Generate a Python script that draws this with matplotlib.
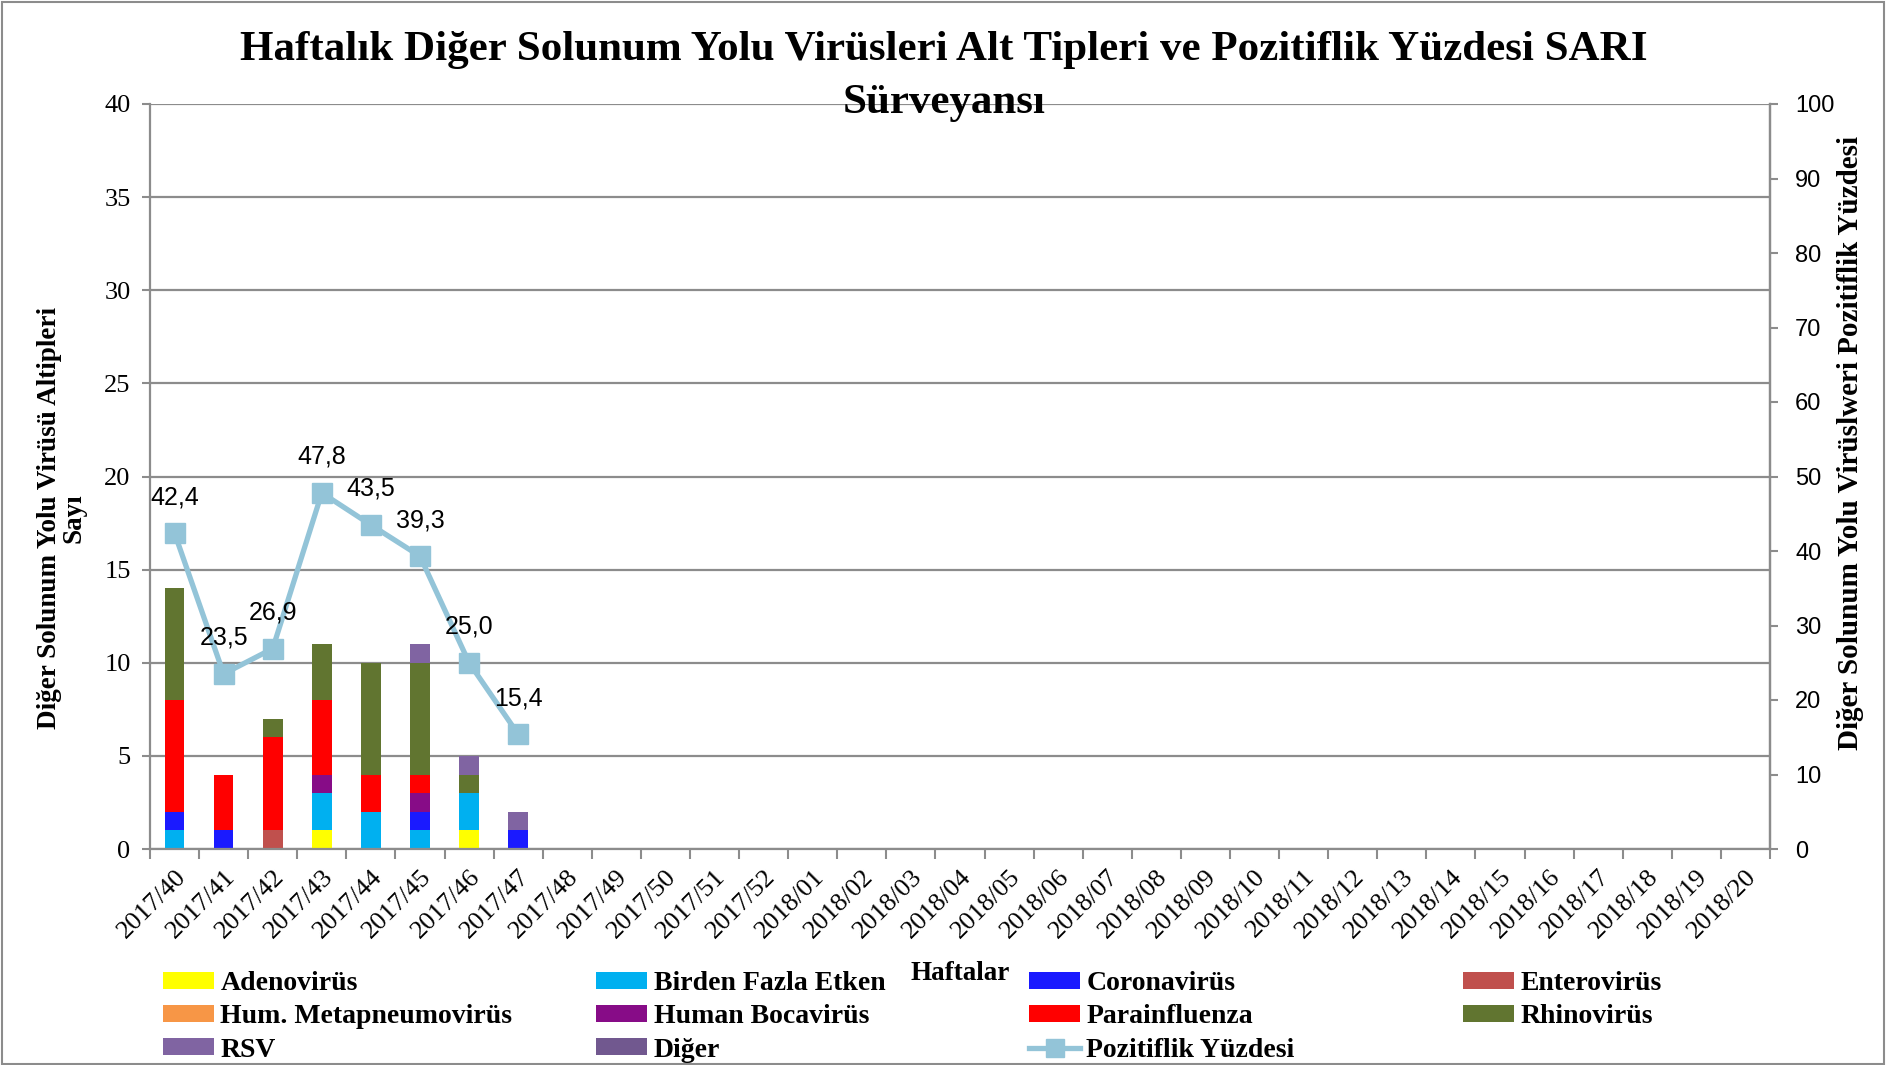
import numpy as np
import matplotlib
matplotlib.use('Agg')
import matplotlib.pyplot as plt
from matplotlib.patches import Rectangle, Patch
from matplotlib.lines import Line2D

plt.rcParams['font.family'] = ['Liberation Serif', 'DejaVu Serif']

# Haftalar
haftalar = ['2017/%d' % w for w in range(40, 53)] + ['2018/%02d' % w for w in range(1, 21)]

# Alt tipler (sadece ilk 8 hafta dolu)
adeno = [0, 0, 0, 1, 0, 0, 1, 0]
birden = [1, 0, 0, 2, 2, 1, 2, 0]
corona = [1, 1, 0, 0, 0, 1, 0, 1]
entero = [0, 0, 1, 0, 0, 0, 0, 0]
hmpv = [0, 0, 0, 0, 0, 0, 0, 0]
boca = [0, 0, 0, 1, 0, 1, 0, 0]
para = [6, 3, 5, 4, 2, 1, 0, 0]
rhino = [6, 0, 1, 3, 6, 6, 1, 0]
rsv = [0, 0, 0, 0, 0, 1, 1, 1]
diger = [0, 0, 0, 0, 0, 0, 0, 0]
pozitiflik = [42.4, 23.5, 26.9, 47.8, 43.5, 39.3, 25.0, 15.4]

seriler = [
    ('Adenovirüs', adeno, '#FFFF00'),
    ('Birden Fazla Etken', birden, '#00B0F0'),
    ('Coronavirüs', corona, '#1A1AFF'),
    ('Enterovirüs', entero, '#C0504D'),
    ('Hum. Metapneumovirüs', hmpv, '#F79646'),
    ('Human Bocavirüs', boca, '#870C87'),
    ('Parainfluenza', para, '#FF0000'),
    ('Rhinovirüs', rhino, '#617530'),
    ('RSV', rsv, '#8064A2'),
    ('Diğer', diger, '#71588F'),
]
cizgi_renk = '#93C4D8'
gri = '#8C8C8C'

fig = plt.figure(figsize=(18.88, 10.65), dpi=100)
ax = fig.add_axes([150 / 1888, 1 - 849 / 1065, 1620 / 1888, 745 / 1065])

x = np.arange(len(adeno))
alt = np.zeros(len(adeno))
for ad, deger, renk in seriler:
    ax.bar(x, deger, 0.4, bottom=alt, color=renk, label=ad)
    alt += np.array(deger)

ax.set_xlim(-0.5, len(haftalar) - 0.5)
ax.set_ylim(0, 40)
ax.set_yticks(np.arange(0, 41, 5))
ax.tick_params(axis='y', labelsize=19, length=6, width=1.5, color=gri, pad=8)
for t in ax.get_yticklabels():
    t.set_fontfamily('Liberation Serif')
ax.yaxis.grid(True, color=gri, linewidth=1.6)
ax.set_axisbelow(True)

ax.set_xticks(np.arange(len(haftalar)))
ax.set_xticklabels(haftalar, rotation=45, ha='right', rotation_mode='anchor', fontsize=19)
ax.tick_params(axis='x', length=0, pad=12)
ax.set_xticks(np.arange(len(haftalar) + 1) - 0.5, minor=True)
ax.tick_params(axis='x', which='minor', length=7, width=1.5, color=gri)

ax.spines['top'].set_visible(False)
for s in ['left', 'bottom', 'right']:
    ax.spines[s].set_color(gri)
    ax.spines[s].set_linewidth(1.6)

ax2 = ax.twinx()
ax2.set_ylim(0, 100)
ax2.set_yticks(np.arange(0, 101, 10))
ax2.tick_params(axis='y', length=6, width=1.5, color=gri, pad=12)
for t in ax2.get_yticklabels():
    t.set_fontfamily('Liberation Sans')
    t.set_fontsize(17)
for s in ['top', 'left', 'bottom']:
    ax2.spines[s].set_visible(False)
ax2.spines['right'].set_color(gri)
ax2.spines['right'].set_linewidth(1.6)

ax2.plot(x, pozitiflik, color=cizgi_renk, linewidth=3.8, marker='s', markersize=15,
         label='Pozitiflik Yüzdesi')
for xi, v in zip(x, pozitiflik):
    ax2.annotate(('%.1f' % v).replace('.', ','), (xi, v), xytext=(0, 26), textcoords='offset points',
                 ha='center', va='center', fontsize=18, family='Liberation Sans')

fig.text(0.5, 1 - 50 / 1065, 'Haftalık Diğer Solunum Yolu Virüsleri Alt Tipleri ve Pozitiflik Yüzdesi SARI',
         ha='center', va='center', fontsize=31, fontweight='bold')
fig.text(0.5, 1 - 103 / 1065, 'Sürveyansı', ha='center', va='center', fontsize=31, fontweight='bold')

fig.text(62 / 1888, 1 - 518 / 1065, 'Diğer Solunum Yolu Virüsü Altipleri\nSayı', rotation=90,
         ha='center', va='center', fontsize=19.5, fontweight='bold', multialignment='center',
         linespacing=0.95)
fig.text(1851 / 1888, 1 - 443 / 1065, 'Diğer Solunum Yolu Virüslweri Pozitiflik Yüzdesi', rotation=90,
         ha='center', va='center', fontsize=21, fontweight='bold')
fig.text(960 / 1888, 1 - 973 / 1065, 'Haftalar', ha='center', va='center', fontsize=19.5, fontweight='bold')

# legend: 4 ayrı sütun
renkler = {ad: renk for ad, _, renk in seriler}
sutunlar = [
    ['Adenovirüs', 'Hum. Metapneumovirüs', 'RSV'],
    ['Birden Fazla Etken', 'Human Bocavirüs', 'Diğer'],
    ['Coronavirüs', 'Parainfluenza', 'Pozitiflik Yüzdesi'],
    ['Enterovirüs', 'Rhinovirüs'],
]
sutun_x = [163, 596, 1029, 1463]
for sx, adlar in zip(sutun_x, sutunlar):
    handles = []
    for ad in adlar:
        if ad == 'Pozitiflik Yüzdesi':
            handles.append(Line2D([], [], color=cizgi_renk, linewidth=3.8, marker='s', markersize=13))
        else:
            handles.append(Patch(facecolor=renkler[ad]))
    fig.legend(handles, adlar, loc='upper left', bbox_to_anchor=(sx / 1888, 1 - 971 / 1065),
               frameon=False, prop={'weight': 'bold', 'size': 20}, handlelength=1.85, handleheight=0.55,
               handletextpad=0.22, labelspacing=0.3, borderaxespad=0, borderpad=0)

fig.patches.append(Rectangle((0.001, 0.001), 0.997, 0.997, transform=fig.transFigure,
                             fill=False, edgecolor=gri, linewidth=1.5))

fig.savefig('out.png', dpi=100)
